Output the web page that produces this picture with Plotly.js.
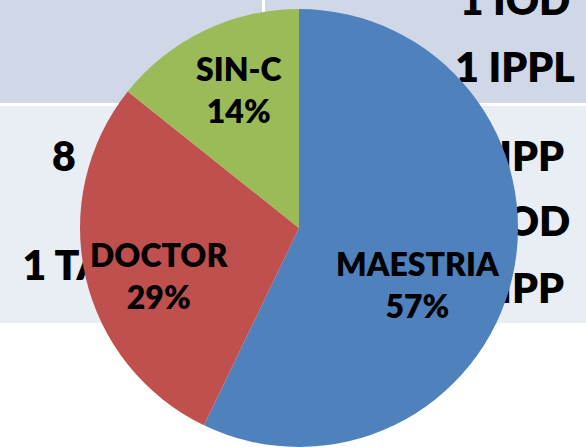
<!DOCTYPE html>
<html>
<head>
<meta charset="utf-8">
<script src="https://cdn.plot.ly/plotly-3.0.1.min.js"></script>
<style>html,body{margin:0;padding:0;background:#fff;}#chart{width:586px;height:447px;}</style>
</head>
<body>
<div id="chart"></div>
<script>
// ---- data ----
var categories = ['MAESTRIA', 'DOCTOR', 'SIN-C'];
var values = [4, 2, 1];
var sliceColors = ['#4F81BD', '#C0504D', '#9BBB59'];
// background table texts (partly hidden behind the pie)
var tableTexts = ['1 IOD', '1 IPPL', '8', '1 TA', '1 IPP', '1 IOD', '1 IPP'];

// ---- layout helpers ----
var W = 586, H = 447;
function px(x) { return x / W; }
function py(y) { return 1 - y / H; }

var textCenters = [[515, -2], [515, 65], [64, 154], [64, 263], [515, 154], [515, 219], [515, 286]];
var bgFont = {family: 'Lato, sans-serif', size: 41, color: '#000000', weight: 800};
var labelFont = {family: 'Lato, sans-serif', size: 32, color: '#000000', weight: 800};

var shapes = [
  {type: 'rect', xref: 'paper', yref: 'paper', layer: 'below', x0: 0, x1: px(262), y0: py(103), y1: 1, fillcolor: '#D0D8E8', line: {width: 0}},
  {type: 'rect', xref: 'paper', yref: 'paper', layer: 'below', x0: px(265), x1: 1, y0: py(103), y1: 1, fillcolor: '#D0D8E8', line: {width: 0}},
  {type: 'rect', xref: 'paper', yref: 'paper', layer: 'below', x0: 0, x1: 1, y0: py(323), y1: py(106), fillcolor: '#E9EDF4', line: {width: 0}}
];
tableTexts.forEach(function (t, i) {
  var c = textCenters[i];
  shapes.push({
    type: 'rect', xref: 'paper', yref: 'paper', layer: 'below',
    x0: px(c[0] - 70), x1: px(c[0] + 70), y0: py(c[1] + 20), y1: py(c[1] - 20),
    fillcolor: 'rgba(0,0,0,0)', line: {width: 0},
    label: {text: t, font: bgFont, textposition: 'middle center', padding: 0}
  });
});

// slice labels (label + rounded percent), placed inside each slice
var total = values.reduce(function (a, b) { return a + b; }, 0);
var labelCenters = [[418, 284], [159, 275], [239, 90]];
var annotations = categories.map(function (c, i) {
  return {
    xref: 'paper', yref: 'paper',
    x: px(labelCenters[i][0]), y: py(labelCenters[i][1]),
    xanchor: 'center', yanchor: 'middle',
    text: c + '<br>' + Math.round(values[i] / total * 100) + '%',
    showarrow: false, align: 'center',
    font: labelFont
  };
});

var trace = {
  type: 'pie',
  labels: categories,
  values: values,
  sort: false,
  direction: 'clockwise',
  rotation: 0,
  marker: {colors: sliceColors, line: {width: 0}},
  textinfo: 'none',
  hoverinfo: 'none',
  showlegend: false,
  domain: {x: [px(80), px(518)], y: [0, py(9)]}
};

var layout = {
  width: W, height: H,
  margin: {l: 0, r: 0, t: 0, b: 0, pad: 0},
  paper_bgcolor: '#FFFFFF',
  showlegend: false,
  shapes: shapes,
  annotations: annotations
};

Plotly.newPlot('chart', [trace], layout, {displayModeBar: false, staticPlot: true});
</script>
</body>
</html>
